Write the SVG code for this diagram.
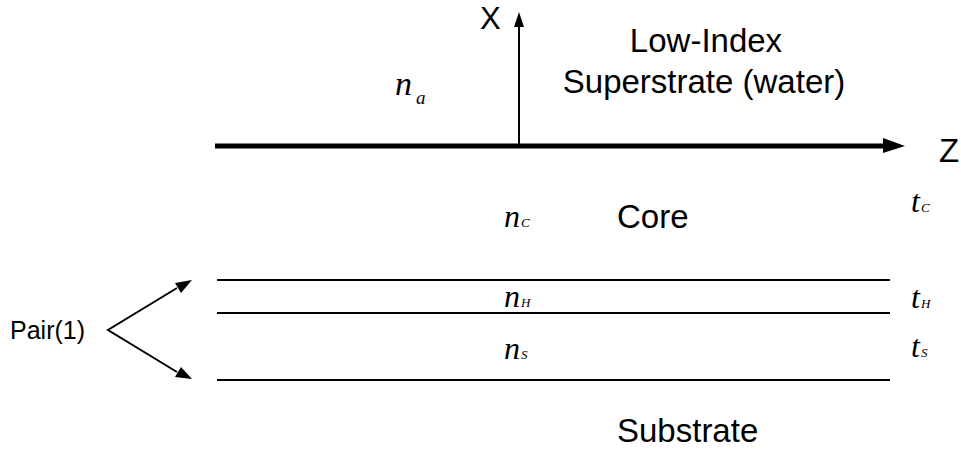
<svg xmlns="http://www.w3.org/2000/svg" width="961" height="456" viewBox="0 0 961 456">
<defs>
<style>
.lbl{font-family:"Liberation Sans",Arial,sans-serif;font-size:33px;fill:#000}
.math{font-family:"Liberation Serif","Times New Roman",serif;font-style:italic;fill:#000}
.ln{stroke:#000;stroke-width:2;fill:none}
</style>
</defs>
<rect width="961" height="456" fill="#fff"/>
<g id="connectors">
<line x1="215" y1="146" x2="884" y2="146" stroke="#000" stroke-width="5"/>
<polygon points="883,138 905,146 883,153" fill="#000"/>
<line x1="519" y1="146" x2="519" y2="26" stroke="#000" stroke-width="2"/>
<polygon points="514,27 519,12 524,27" fill="#000"/>
<line class="ln" x1="217" y1="280" x2="890" y2="280"/>
<line class="ln" x1="217" y1="313" x2="890" y2="313"/>
<line class="ln" x1="217" y1="380" x2="890" y2="380"/>
<path d="M177,288 L108,330 L177,372" class="ln"/>
<polygon points="192,280 175,283 181,293" fill="#000"/>
<polygon points="192,379 181,367 175,377" fill="#000"/>
</g>
<g id="axis-labels">
<text class="lbl" x="480" y="29" style="font-size:31px">X</text>
<text class="lbl" x="939" y="162">Z</text>
</g>
<g id="superstrate">
<text class="math" x="395" y="95" font-size="34">n</text>
<text class="math" x="416" y="104" font-size="19">a</text>
<text class="lbl" x="706" y="52" text-anchor="middle">Low-Index</text>
<text class="lbl" x="704" y="93" text-anchor="middle">Superstrate (water)</text>
</g>
<g id="core">
<text class="math" x="504" y="227" font-size="32">n</text>
<text class="math" x="521" y="227" font-size="13">C</text>
<text class="lbl" x="617" y="228">Core</text>
<text class="math" x="911" y="212" font-size="32">t</text>
<text class="math" x="921" y="212" font-size="13">C</text>
</g>
<g id="high-layer">
<text class="math" x="504" y="307" font-size="32">n</text>
<text class="math" x="521" y="307" font-size="13">H</text>
<text class="math" x="911" y="308" font-size="32">t</text>
<text class="math" x="921" y="308" font-size="13">H</text>
</g>
<g id="low-layer">
<text class="math" x="504" y="359" font-size="32">n</text>
<text class="math" x="521" y="359" font-size="13">S</text>
<text class="math" x="911" y="357" font-size="32">t</text>
<text class="math" x="921" y="357" font-size="13">S</text>
</g>
<g id="substrate">
<text class="lbl" x="617" y="442">Substrate</text>
</g>
<g id="pair">
<text class="lbl" x="10" y="339" style="font-size:25px">Pair(1)</text>
</g>
</svg>
